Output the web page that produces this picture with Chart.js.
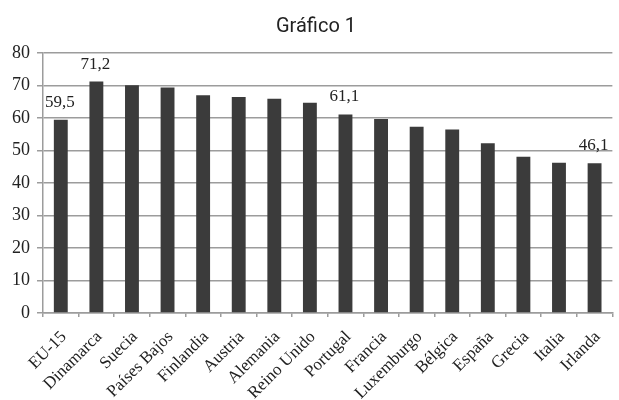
<!DOCTYPE html>
<html>
<head>
<meta charset="utf-8">
<script src="https://cdn.jsdelivr.net/npm/chart.js@4/dist/chart.umd.min.js"></script>
<style>
  html, body { margin: 0; padding: 0; background: #fff; }
  #wrap { width: 619px; height: 400px; }
</style>
</head>
<body>
<div id="wrap"><canvas id="chart" width="619" height="400"></canvas></div>
<script>
// Categories (countries) and values
const countries = ['EU-15', 'Dinamarca', 'Suecia', 'Países Bajos', 'Finlandia', 'Austria',
  'Alemania', 'Reino Unido', 'Portugal', 'Francia', 'Luxemburgo', 'Bélgica',
  'España', 'Grecia', 'Italia', 'Irlanda'];
const values = [59.5, 71.2, 70.1, 69.4, 67.0, 66.5, 65.9, 64.7, 61.1, 59.7, 57.3, 56.5, 52.2, 48.1, 46.2, 46.1];
// Bars that carry a value label
const labelledCountries = ['EU-15', 'Dinamarca', 'Portugal', 'Irlanda'];
const yTicks = [0, 10, 20, 30, 40, 50, 60, 70, 80];
const chartTitle = 'Gráfico 1';

const gridGray = '#9c9c9c';
const serif = "'Liberation Serif', 'Times New Roman', serif";

// Value labels above the chosen bars, with a decimal comma
const valueLabels = {
  id: 'valueLabels',
  afterDatasetsDraw(chart) {
    const meta = chart.getDatasetMeta(0);
    const ctx = chart.ctx;
    ctx.save();
    ctx.font = '17px ' + serif;
    ctx.fillStyle = '#222';
    ctx.textAlign = 'center';
    ctx.textBaseline = 'alphabetic';
    meta.data.forEach((bar, i) => {
      if (!labelledCountries.includes(countries[i])) return;
      const txt = values[i].toFixed(1).replace('.', ',');
      ctx.fillText(txt, bar.x - 1, bar.y - 13);
    });
    ctx.restore();
  }
};

// Heading, set slightly left of the plot's centre
const heading = {
  id: 'heading',
  afterDraw(chart) {
    const ctx = chart.ctx;
    ctx.save();
    ctx.font = '20px Roboto, sans-serif';
    ctx.fillStyle = '#222';
    ctx.textAlign = 'center';
    ctx.textBaseline = 'alphabetic';
    ctx.fillText(chartTitle, 316, 32);
    ctx.restore();
  }
};

new Chart(document.getElementById('chart'), {
  type: 'bar',
  data: {
    labels: countries,
    datasets: [{
      data: values,
      backgroundColor: '#3b3b3b',
      borderWidth: 0,
      categoryPercentage: 1,
      barPercentage: 0.39
    }]
  },
  options: {
    responsive: false,
    animation: false,
    layout: { padding: { left: 0, right: 0, top: 53, bottom: 0 } },
    plugins: {
      legend: { display: false },
      tooltip: { enabled: false },
      title: { display: false }
    },
    scales: {
      x: {
        offset: true,
        grid: {
          display: true,
          offset: true,
          drawOnChartArea: false,
          drawTicks: true,
          tickLength: 4,
          color: gridGray,
          lineWidth: 1.5
        },
        border: { display: true, color: gridGray, width: 1.5 },
        ticks: {
          autoSkip: false,
          maxRotation: 45,
          minRotation: 45,
          padding: 10,
          labelOffset: 3,
          color: '#222',
          font: { family: serif, size: 17 }
        },
        afterFit(scale) { scale.height = 87; }
      },
      y: {
        min: 0,
        max: 80,
        afterBuildTicks(scale) { scale.ticks = yTicks.map(v => ({ value: v })); },
        grid: {
          color: gridGray,
          lineWidth: 1.5,
          drawTicks: true,
          tickLength: 6
        },
        border: { display: true, color: gridGray, width: 1.5 },
        ticks: {
          padding: 7,
          color: '#222',
          font: { family: serif, size: 18 }
        },
        afterFit(scale) { scale.width = 43; }
      }
    }
  },
  plugins: [valueLabels, heading]
});
</script>
</body>
</html>
